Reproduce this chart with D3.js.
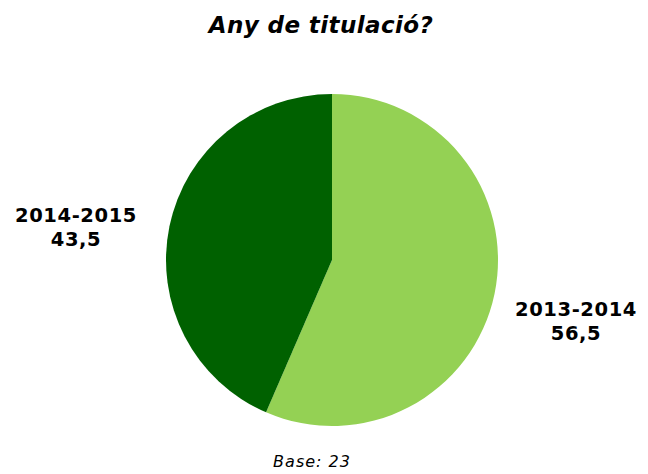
<!DOCTYPE html>
<html>
<head>
<meta charset="utf-8">
<script src="https://cdn.jsdelivr.net/npm/d3@7"></script>
<style>
  body { margin: 0; background: #fff; }
  svg text { font-family: "DejaVu Sans", Verdana, sans-serif; fill: #000; }
</style>
</head>
<body>
<div id="chart"></div>
<script>
// Data
const categories = ['2013-2014', '2014-2015'];
const values = [56.5, 43.5];
const colors = ['#94d154', '#006100'];
const baseN = 23;

const W = 648, H = 474;
const CX = 332, CY = 260, R = 166;

const svg = d3.select('#chart').append('svg')
  .attr('width', W).attr('height', H);

// Title
svg.append('text')
  .attr('x', 321).attr('y', 33)
  .attr('text-anchor', 'middle')
  .attr('font-size', 23)
  .attr('font-weight', 'bold')
  .attr('font-style', 'italic')
  .attr('letter-spacing', 0.4)
  .text('Any de titulació?');

const pie = d3.pie().sort(null).value(d => d.value);
const arcs = pie(categories.map((c, i) => ({ label: c, value: values[i], color: colors[i] })));
const arc = d3.arc().innerRadius(0).outerRadius(R);

const g = svg.append('g').attr('transform', `translate(${CX},${CY})`);
g.selectAll('path')
  .data(arcs)
  .join('path')
  .attr('d', arc)
  .attr('fill', d => d.data.color);

// Labels outside the slices
const labelPos = [[576, 316], [76, 222]];
const fmt = v => String(v).replace('.', ',');
const lab = svg.selectAll('.slice-label')
  .data(arcs)
  .join('text')
  .attr('class', 'slice-label')
  .attr('text-anchor', 'middle')
  .attr('font-size', 19.5)
  .attr('font-weight', 'bold')
  .attr('letter-spacing', 0.6);
lab.append('tspan')
  .attr('x', (d, i) => labelPos[i][0])
  .attr('y', (d, i) => labelPos[i][1])
  .text(d => d.data.label);
lab.append('tspan')
  .attr('x', (d, i) => labelPos[i][0])
  .attr('dy', 24)
  .text(d => fmt(d.data.value));

// Base note
svg.append('text')
  .attr('x', 312).attr('y', 467)
  .attr('text-anchor', 'middle')
  .attr('font-size', 16)
  .attr('font-style', 'italic')
  .attr('letter-spacing', 1)
  .text(`Base: ${baseN}`);
</script>
</body>
</html>
